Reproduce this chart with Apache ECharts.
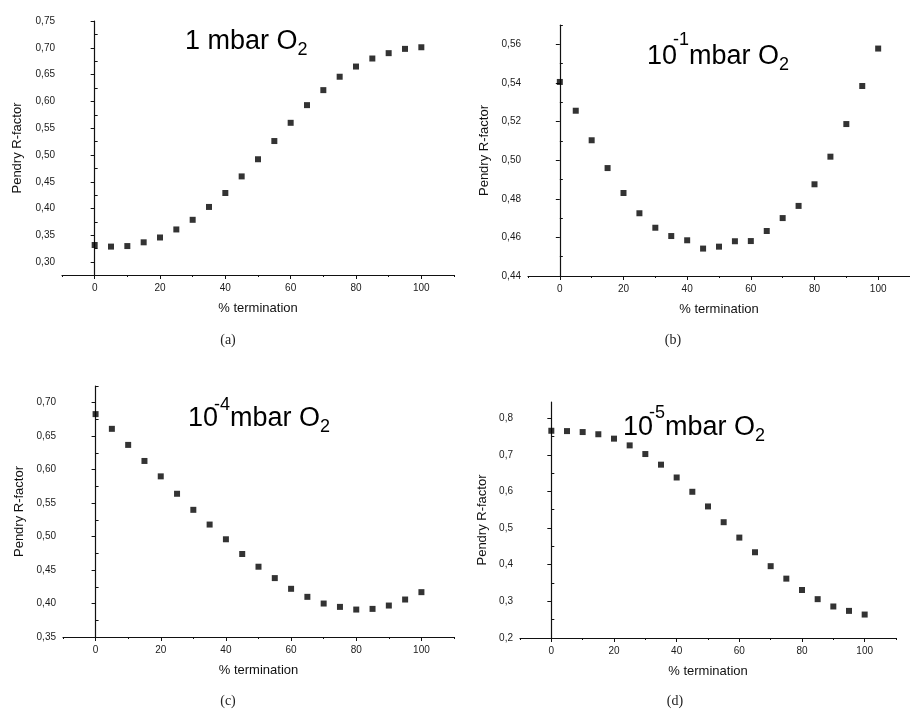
<!DOCTYPE html>
<html>
<head>
<meta charset="utf-8">
<script src="https://cdn.jsdelivr.net/npm/echarts@6/dist/echarts.min.js"></script>
<style>
  html, body { margin: 0; padding: 0; background: #fff; }
  #main { width: 910px; height: 710px; }
</style>
</head>
<body>
<div id="main"></div>
<script>
  // % termination (same for all four panels)
  var xPct = [0, 5, 10, 15, 20, 25, 30, 35, 40, 45, 50, 55, 60, 65, 70, 75, 80, 85, 90, 95, 100];

  // Pendry R-factor
  var rA = [0.332, 0.329, 0.330, 0.337, 0.346, 0.361, 0.379, 0.403, 0.429, 0.460, 0.492,
            0.526, 0.560, 0.593, 0.621, 0.646, 0.665, 0.680, 0.690, 0.698, 0.701];
  var rB = [0.5405, 0.5256, 0.5103, 0.4959, 0.4830, 0.4725, 0.4650, 0.4607, 0.4585, 0.4542, 0.4552,
            0.4580, 0.4581, 0.4633, 0.4700, 0.4763, 0.4875, 0.5018, 0.5187, 0.5384, 0.5578];
  var rC = [0.683, 0.661, 0.637, 0.613, 0.590, 0.564, 0.540, 0.518, 0.496, 0.474, 0.455,
            0.438, 0.422, 0.410, 0.400, 0.395, 0.391, 0.392, 0.397, 0.406, 0.417];
  var rD = [0.7655, 0.7646, 0.762, 0.756, 0.744, 0.7256, 0.702, 0.673, 0.638, 0.599, 0.559,
            0.516, 0.474, 0.434, 0.396, 0.362, 0.331, 0.306, 0.286, 0.274, 0.264];

  // tick labels
  var xTicks = [0, 20, 40, 60, 80, 100];
  var xMinor = [-10, 10, 30, 50, 70, 90, 110];
  var yTicksA = [0.30, 0.35, 0.40, 0.45, 0.50, 0.55, 0.60, 0.65, 0.70, 0.75];
  var yTicksB = [0.44, 0.46, 0.48, 0.50, 0.52, 0.54, 0.56];
  var yTicksC = [0.35, 0.40, 0.45, 0.50, 0.55, 0.60, 0.65, 0.70];
  var yTicksD = [0.2, 0.3, 0.4, 0.5, 0.6, 0.7, 0.8];

  // panel titles: base, exponent, rest
  var titleBase = ['1 mbar O', '10', '10', '10'];
  var titleExp = ['', '-1', '-4', '-5'];
  var titleRest = ['', 'mbar O', 'mbar O', 'mbar O'];
  var captions = ['(a)', '(b)', '(c)', '(d)'];

  var FONT = 'Liberation Sans';

  // panel layout: grid box, y range, decimals, name gap, title start/middle, caption
  var panels = [
    { grid: { left: 62, top: 21, width: 392, height: 254 }, yMin: 0.276, yMax: 0.75, ticks: yTicksA, dec: 2, data: rA, nameGap: 38, title: [185, 42], sup: 0, cap: [228, 340] },
    { grid: { left: 528, top: 25, width: 391, height: 251 }, yMin: 0.44, yMax: 0.57, ticks: yTicksB, dec: 2, data: rB, nameGap: 37, title: [647, 56.5], sup: -16, cap: [673, 340] },
    { grid: { left: 63, top: 386, width: 391, height: 251 }, yMin: 0.35, yMax: 0.725, ticks: yTicksC, dec: 2, data: rC, nameGap: 37, title: [188, 418.5], sup: -13, cap: [228, 701] },
    { grid: { left: 520, top: 402, width: 376, height: 236 }, yMin: 0.2, yMax: 0.844, ticks: yTicksD, dec: 1, data: rD, nameGap: 31, title: [623, 427.5], sup: -14, cap: [675, 701] }
  ];

  function minorOf(ticks, lo, hi) {
    var out = [];
    var step = ticks[1] - ticks[0];
    for (var i = 0; i < ticks.length; i++) {
      var v = Math.round((ticks[i] + step / 2) * 1000) / 1000;
      if (v <= hi) out.push(v);
    }
    var b = Math.round((ticks[0] - step / 2) * 1000) / 1000;
    if (b >= lo) out.unshift(b);
    return out;
  }

  // text width helper for chaining title pieces
  var ctx = document.createElement('canvas').getContext('2d');
  function textW(t, size) {
    ctx.font = size + 'px "' + FONT + '"';
    return ctx.measureText(t).width;
  }
  function piece(t, x, y, size) {
    return {
      type: 'text', x: x, y: y, z: 10,
      style: { text: t, font: size + 'px "' + FONT + '"', fill: '#000', align: 'left', verticalAlign: 'middle' }
    };
  }

  var axisLine = { show: true, lineStyle: { color: '#111', width: 1.2 } };

  var grids = [], xAxes = [], yAxes = [], series = [], graphics = [];

  panels.forEach(function (p, i) {
    grids.push(p.grid);

    // main x axis
    xAxes.push({
      gridIndex: i, type: 'value', position: 'bottom', min: -10, max: 110,
      name: '% termination', nameLocation: 'middle', nameGap: 27,
      nameTextStyle: { fontFamily: FONT, fontSize: 13, color: '#111' },
      axisLine: axisLine,
      axisTick: { show: true, length: 4, customValues: xTicks, lineStyle: { color: '#111' } },
      axisLabel: { show: true, customValues: xTicks, margin: 8, fontFamily: FONT, fontSize: 10, color: '#1a1a1a' },
      splitLine: { show: false }
    });
    // minor x ticks
    xAxes.push({
      gridIndex: i, type: 'value', position: 'bottom', min: -10, max: 110,
      axisLine: { show: false },
      axisTick: { show: true, length: 2, customValues: xMinor, lineStyle: { color: '#111' } },
      axisLabel: { show: false },
      splitLine: { show: false }
    });

    // main y axis
    yAxes.push({
      gridIndex: i, type: 'value', position: 'left', min: p.yMin, max: p.yMax,
      name: 'Pendry R-factor', nameLocation: 'middle', nameGap: p.nameGap,
      nameTextStyle: { fontFamily: FONT, fontSize: 13, color: '#111' },
      axisLine: axisLine,
      axisTick: { show: true, length: 4, customValues: p.ticks, lineStyle: { color: '#111' } },
      axisLabel: {
        show: true, customValues: p.ticks, margin: 7, fontFamily: FONT, fontSize: 10, color: '#1a1a1a',
        formatter: function (v) { return v.toFixed(p.dec).replace('.', ','); }
      },
      splitLine: { show: false }
    });
    // minor y ticks (inside)
    yAxes.push({
      gridIndex: i, type: 'value', position: 'left', min: p.yMin, max: p.yMax,
      axisLine: { show: false },
      axisTick: { show: true, inside: true, length: 3, customValues: minorOf(p.ticks, p.yMin, p.yMax), lineStyle: { color: '#111' } },
      axisLabel: { show: false },
      splitLine: { show: false }
    });

    series.push({
      type: 'scatter',
      xAxisIndex: 2 * i,
      yAxisIndex: 2 * i,
      symbol: 'rect',
      symbolSize: 6,
      itemStyle: { color: '#000' },
      data: xPct.map(function (x, k) { return [x, p.data[k]]; })
    });

    // title "10^-n mbar O_2"
    var x = p.title[0], y = p.title[1];
    graphics.push(piece(titleBase[i], x, y, 27));
    x += textW(titleBase[i], 27);
    if (titleExp[i]) {
      x -= 4;
      graphics.push(piece(titleExp[i], x, y + p.sup, 18));
      x += textW(titleExp[i], 18);
      graphics.push(piece(titleRest[i], x, y, 27));
      x += textW(titleRest[i], 27);
    }
    graphics.push(piece('2', x, y + 8.5, 18));

    graphics.push({
      type: 'text', x: p.cap[0], y: p.cap[1],
      style: { text: captions[i], font: '14px "Liberation Serif"', fill: '#222', align: 'center', verticalAlign: 'middle' }
    });
  });

  var chart = echarts.init(document.getElementById('main'), null, { renderer: 'canvas' });
  var option = {
    backgroundColor: '#fff',
    animation: false,
    grid: grids,
    xAxis: xAxes,
    yAxis: yAxes,
    series: series,
    graphic: graphics
  };
  option && chart.setOption(option, true);
</script>
</body>
</html>
